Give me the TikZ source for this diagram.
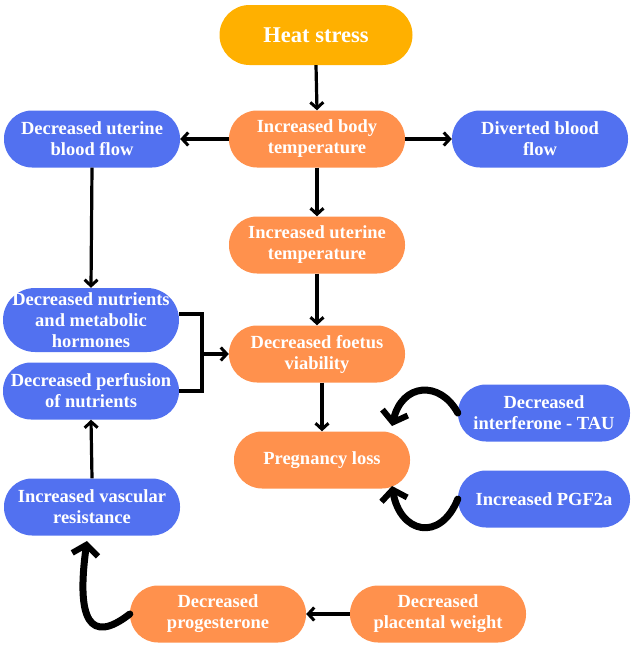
\documentclass[tikz,border=0pt]{standalone}
\usepackage{fontspec}
\setmainfont{Liberation Serif}
\usetikzlibrary{arrows.meta}
\definecolor{hsY}{HTML}{FFB000}
\definecolor{orgO}{HTML}{FF914D}
\definecolor{bluB}{HTML}{5271F0}
\tikzset{
  pill/.style={draw=none, rounded corners=28pt, minimum width=176pt, minimum height=57pt,
    text=white, align=center, font=\bfseries\fontsize{18.5}{21}\selectfont, inner sep=1pt},
  org/.style={pill, fill=orgO},
  blu/.style={pill, fill=bluB},
  arr/.style={line width=3.2pt, -{Straight Barb[length=6pt,width=13pt,line width=3pt]}},
  brush/.style={line width=7pt, line cap=round, -{Straight Barb[length=10pt,width=26pt,line width=6pt]}},
  plain/.style={line width=3.2pt}
}
\begin{document}
\begin{tikzpicture}[x=1pt,y=-1pt]
\useasboundingbox (0,0) rectangle (636,645);
\node[pill, fill=hsY, minimum width=193pt, minimum height=60pt, rounded corners=30pt,
  font=\bfseries\fontsize{22.5}{25}\selectfont] (heat) at (316,35) {Heat stress};
\node[org] (body) at (317,139) {Increased body\\temperature};
\node[blu] (ubf) at (92,139) {Decreased uterine\\blood flow};
\node[blu] (div) at (540,139) {Diverted blood\\flow};
\node[org] (utemp) at (317,245) {Increased uterine\\temperature};
\node[org] (foet) at (317,354) {Decreased foetus\\viability};
\node[blu, minimum height=64pt, rounded corners=32pt] (nutr) at (91,320) {Decreased nutrients\\and metabolic\\hormones};
\node[blu] (perf) at (91,391) {Decreased perfusion\\of nutrients};
\node[org] (preg) at (322,460) {Pregnancy loss};
\node[blu, minimum width=172pt] (intf) at (544,413) {Decreased\\interferone - TAU};
\node[blu, minimum width=172pt] (pgf) at (544,499) {Increased PGF2a};
\node[blu] (vasc) at (92,507) {Increased vascular\\resistance};
\node[org] (prog) at (218,614) {Decreased\\progesterone};
\node[org] (plac) at (438,614) {Decreased\\placental weight};

\draw[arr] (heat.south) -- (body.north);
\draw[arr] (body.west) -- (ubf.east);
\draw[arr] (body.east) -- (div.west);
\draw[arr] (body.south) -- (utemp.north);
\draw[arr] (utemp.south) -- (foet.north);
\draw[arr] (foet.south -| preg.north) -- (preg.north);
\draw[arr] (ubf.south) -- (nutr.north);
\draw[arr] (vasc.north) -- (perf.south);
\draw[arr] (plac.west) -- (prog.east);

\coordinate (bj) at (202,354);
\draw[plain] (nutr.east |- 0,314) -- (bj |- 0,314) -- (bj |- perf.east) -- (perf.east);
\draw[arr] (bj) -- (foet.west);

\coordinate (t1) at (392,426);
\coordinate (t2) at (392,486);
\coordinate (t3) at (87,541);
\draw[brush] (intf.west) .. controls (440,380) and (402,383) .. (t1);
\draw[brush] (pgf.west) .. controls (440,543) and (400,533) .. (t2);
\draw[brush] (prog.west) .. controls (90,645) and (76,620) .. (t3);
\end{tikzpicture}
\end{document}
